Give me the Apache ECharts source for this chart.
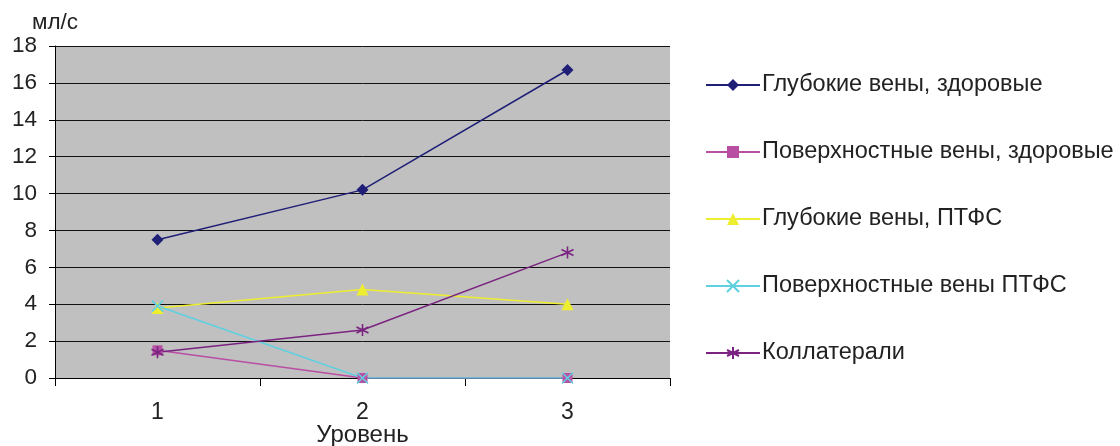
<!DOCTYPE html>
<html><head><meta charset="utf-8">
<script src="https://cdn.jsdelivr.net/npm/echarts@6/dist/echarts.min.js"></script>
<style>html,body{margin:0;padding:0;background:#fff}#c{width:1120px;height:446px}</style>
</head><body><div id="c"></div>
<script>
const categories = ['1', '2', '3'];
const seriesNames = ['Глубокие вены, здоровые', 'Поверхностные вены, здоровые', 'Глубокие вены, ПТФС', 'Поверхностные вены ПТФС', 'Коллатерали'];
const deepHealthy = [7.5, 10.2, 16.7];
const surfaceHealthy = [1.5, 0, 0];
const deepPTFS = [3.8, 4.8, 4.0];
const surfacePTFS = [3.9, 0, 0];
const collaterals = [1.4, 2.6, 6.8];
const yTicks = [0, 2, 4, 6, 8, 10, 12, 14, 16, 18];

const colors = ['#1F1F78', '#B84FA3', '#EEEE30', '#5FD0E0', '#7A2380'];
const xSym = 'path://M0,0L10,10M10,0L0,10';
const starSym = 'path://M5,0L5,10M0.7,2.5L9.3,7.5M0.7,7.5L9.3,2.5';
const symbols = ['diamond', 'rect', 'triangle', xSym, starSym];
const sizes = [12, 10, 12, 11, 12];
const dataArr = [deepHealthy, surfaceHealthy, deepPTFS, surfacePTFS, collaterals];

const chart = echarts.init(document.getElementById('c'));
chart.setOption({
  animation: false,
  textStyle: { fontFamily: 'Liberation Sans, Arial, sans-serif' },
  title: { text: 'мл/с', left: 32, top: 11, textStyle: { fontSize: 22.5, fontWeight: 'normal', color: '#222' }, padding: 0 },
  grid: { left: 55, right: 450, top: 46, bottom: 68, show: true, backgroundColor: '#C0C0C0', borderWidth: 0, containLabel: false, outerBoundsMode: 'none' },
  legend: {
    orient: 'vertical', left: 700, top: 68, itemGap: 43, itemWidth: 54, itemHeight: 15,
    textStyle: { fontSize: 23.5, color: '#222', padding: [0, 0, 0, -3] },
    data: seriesNames
  },
  xAxis: {
    type: 'category', data: categories, boundaryGap: true,
    name: 'Уровень', nameLocation: 'middle', nameGap: 45, nameMoveOverlap: false,
    nameTextStyle: { fontSize: 24, color: '#222' },
    axisLine: { lineStyle: { color: '#000', width: 1 } },
    axisTick: { show: true, length: 8, lineStyle: { color: '#000' } },
    axisLabel: { fontSize: 23, color: '#222', margin: 23 }
  },
  yAxis: {
    type: 'value', min: 0, max: 18, interval: 2,
    axisLine: { show: true, lineStyle: { color: '#000' } },
    axisTick: { show: true, length: 6, lineStyle: { color: '#000' } },
    axisLabel: { fontSize: 22.5, color: '#222', margin: 18 },
    splitLine: { show: true, lineStyle: { color: '#111', width: 1 } }
  },
  series: dataArr.map((d, i) => ({
    name: seriesNames[i], type: 'line', data: d,
    symbol: symbols[i], symbolSize: sizes[i], showAllSymbol: true,
    lineStyle: { color: colors[i], width: 1.5 },
    itemStyle: (i >= 3) ? { color: colors[i], borderColor: colors[i], borderWidth: 1.6 } : { color: colors[i] },
    emphasis: { disabled: true }
  }))
});
</script></body></html>
